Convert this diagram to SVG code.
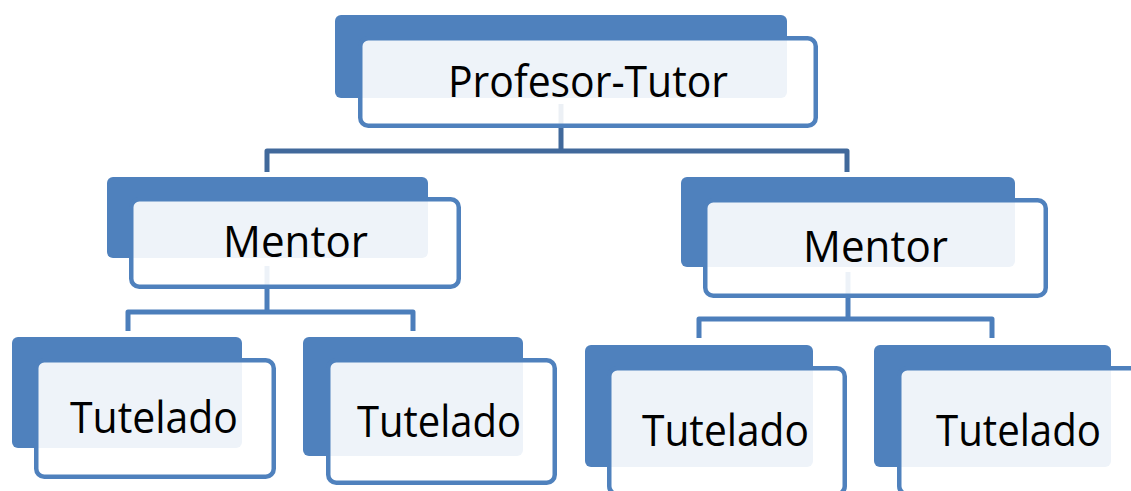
<svg xmlns="http://www.w3.org/2000/svg" width="1131" height="491" viewBox="0 0 1131 491">
<style>
.back{fill:#4F81BD;}
.front{fill:#FFFFFF;fill-opacity:0.9;stroke:#4F81BD;stroke-width:4.5;}
.lbl{font-family:"Open Sans","Noto Sans","Liberation Sans",sans-serif;font-size:43px;fill:#000000;text-anchor:middle;}
.c1{fill:none;stroke:#41699B;stroke-width:5;stroke-linejoin:round;}
.c2{fill:none;stroke:#4C7EBB;stroke-width:5;stroke-linejoin:round;}
</style>
<rect width="1131" height="491" fill="#FFFFFF"/>
<g id="connectors">
<path class="c1" d="M561 104 V151"/>
<path class="c1" d="M267 172 V151 H847 V172"/>
<path class="c2" d="M267 266 V312"/>
<path class="c2" d="M128 331 V312 H413 V331"/>
<path class="c2" d="M848 272 V319"/>
<path class="c2" d="M699 338 V319 H992 V338"/>
</g>
<g id="profesor-tutor">
<rect class="back" x="335" y="15" width="452" height="83" rx="6"/>
<rect class="front" x="360.25" y="38.25" width="455.5" height="87.5" rx="8"/>
<text class="lbl" x="588" y="97" textLength="280" lengthAdjust="spacingAndGlyphs">Profesor-Tutor</text>
</g>
<g id="mentor-left">
<rect class="back" x="107" y="177" width="321" height="81" rx="6"/>
<rect class="front" x="131.25" y="199.25" width="327.5" height="87.5" rx="8"/>
<text class="lbl" x="295.5" y="257" textLength="145" lengthAdjust="spacingAndGlyphs">Mentor</text>
</g>
<g id="mentor-right">
<rect class="back" x="681" y="177" width="334" height="90" rx="6"/>
<rect class="front" x="705.25" y="200.25" width="340.5" height="95.5" rx="8"/>
<text class="lbl" x="875.5" y="262" textLength="145" lengthAdjust="spacingAndGlyphs">Mentor</text>
</g>
<g id="tutelado-1">
<rect class="back" x="12" y="337" width="230" height="111" rx="6"/>
<rect class="front" x="36.25" y="360.25" width="237.5" height="116.5" rx="8"/>
<text class="lbl" x="154" y="433" textLength="168" lengthAdjust="spacingAndGlyphs">Tutelado</text>
</g>
<g id="tutelado-2">
<rect class="back" x="303" y="337" width="220" height="119" rx="6"/>
<rect class="front" x="328.25" y="360.25" width="226.5" height="122.5" rx="8"/>
<text class="lbl" x="439" y="437" textLength="164" lengthAdjust="spacingAndGlyphs">Tutelado</text>
</g>
<g id="tutelado-3">
<rect class="back" x="585" y="345" width="228" height="122" rx="6"/>
<rect class="front" x="609.25" y="368.25" width="235.5" height="126" rx="8"/>
<text class="lbl" x="725.5" y="446" textLength="167" lengthAdjust="spacingAndGlyphs">Tutelado</text>
</g>
<g id="tutelado-4">
<rect class="back" x="874" y="345" width="237" height="122" rx="6"/>
<rect class="front" x="899.25" y="368.25" width="250" height="126" rx="8"/>
<text class="lbl" x="1018.5" y="446" textLength="165" lengthAdjust="spacingAndGlyphs">Tutelado</text>
</g>
</svg>
